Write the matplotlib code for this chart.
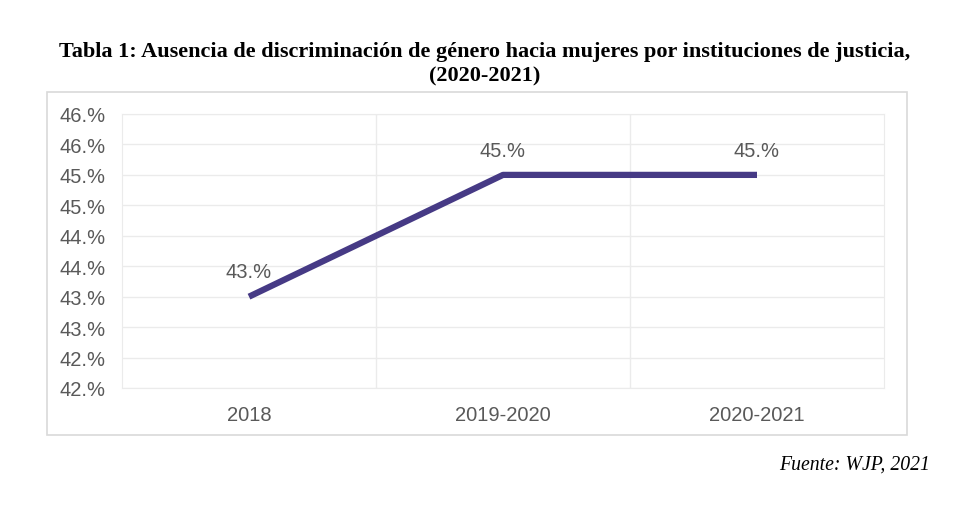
import math
import matplotlib.pyplot as plt
from matplotlib.patches import Rectangle
from matplotlib.ticker import FuncFormatter, MultipleLocator

# data
periodos = ["2018", "2019-2020", "2020-2021"]
valores = [43.5, 45.5, 45.5]
y_min, y_max, y_paso = 42.0, 46.5, 0.5

titulo = ["Tabla 1: Ausencia de discriminación de género hacia mujeres por instituciones de justicia,",
          "(2020-2021)"]
fuente = "Fuente: WJP, 2021"

gris = "#595959"
linea = "#463a85"
rejilla = "#ebebeb"


def pct(v, pos=None):
    # the source chart shows only the integer part followed by ".%"
    return f"{int(math.floor(v + 1e-9))}.%"


fig = plt.figure(figsize=(9.7, 5.06), dpi=100)

# outer chart frame
fig.patches.append(Rectangle((47 / 970, 1 - 436 / 506), 860 / 970, 343 / 506,
                             transform=fig.transFigure, fill=False,
                             edgecolor="#d9d9d9", linewidth=1.2))

ax = fig.add_axes([122 / 970, 1 - 389 / 506, 762 / 970, 274 / 506])
x = list(range(len(periodos)))
ax.plot(x, valores, color=linea, linewidth=4.5, solid_capstyle="butt")

for xi, v in zip(x, valores):
    ax.annotate(pct(v), (xi, v), xytext=(0, 11), textcoords="offset points",
                ha="center", va="bottom", fontsize=14.5, color=gris,
                family="Liberation Sans")

ax.set_xlim(-0.5, len(periodos) - 0.5)
ax.set_ylim(y_min, y_max)
ax.yaxis.set_major_locator(MultipleLocator(y_paso))
ax.yaxis.set_major_formatter(FuncFormatter(pct))
ax.set_xticks(x)
ax.set_xticklabels(periodos)
ax.set_xticks([i + 0.5 for i in x[:-1]], minor=True)

ax.grid(axis="y", which="major", color=rejilla, linewidth=1)
ax.grid(axis="x", which="minor", color=rejilla, linewidth=1)
ax.set_axisbelow(True)
for s in ax.spines.values():
    s.set_color(rejilla)
ax.tick_params(which="both", length=0)
ax.tick_params(axis="y", pad=12)
ax.tick_params(axis="x", pad=12)
for lab in ax.get_xticklabels() + ax.get_yticklabels():
    lab.set_fontfamily("Liberation Sans")
    lab.set_fontsize(14.5)
    lab.set_color(gris)

for linea_txt, yy in zip(titulo, [52, 76]):
    fig.text(0.5, 1 - yy / 506, linea_txt, ha="center", va="center", fontsize=16,
             fontweight="bold", family="Liberation Serif")
fig.text(930 / 970, 1 - 465 / 506, fuente, ha="right", va="center", fontsize=14.2,
         style="italic", family="Liberation Serif")

fig.savefig("out.png", dpi=100)
